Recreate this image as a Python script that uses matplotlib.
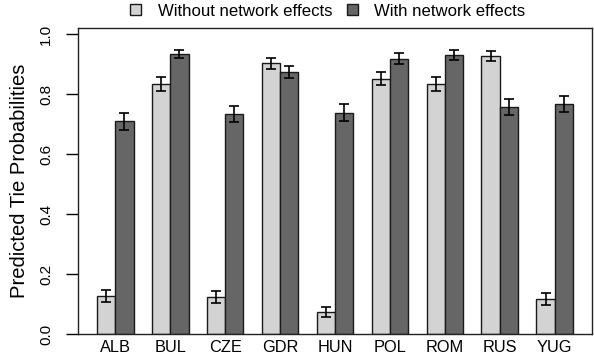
import matplotlib
matplotlib.use("Agg")
import matplotlib.pyplot as plt
from matplotlib.patches import Patch
import numpy as np

plt.rcParams['font.family'] = ['Liberation Sans', 'DejaVu Sans']

countries = ["ALB", "BUL", "CZE", "GDR", "HUN", "POL", "ROM", "RUS", "YUG"]
without_net = [0.127, 0.833, 0.123, 0.902, 0.073, 0.851, 0.833, 0.926, 0.116]
without_err = [0.021, 0.024, 0.021, 0.018, 0.017, 0.022, 0.023, 0.016, 0.020]
with_net = [0.709, 0.933, 0.733, 0.873, 0.738, 0.918, 0.930, 0.756, 0.766]
with_err = [0.028, 0.014, 0.027, 0.021, 0.027, 0.018, 0.017, 0.027, 0.027]
series_labels = ["Without network effects", "With network effects"]
yticks = [0.0, 0.2, 0.4, 0.6, 0.8, 1.0]

light = "#d3d3d3"
dark = "#666666"

fig = plt.figure(figsize=(5.94, 3.58), dpi=100)
ax = fig.add_axes([78/594, 1 - 334/358, (592-78)/594, (334-28)/358])

n = len(countries)
idx = np.arange(n)
x_light = 1.5 + 3 * idx
x_dark = 2.5 + 3 * idx
centers = 2 + 3 * idx

ax.bar(x_light, without_net, width=1.0, color=light, edgecolor="#1a1a1a", linewidth=1.0)
ax.bar(x_dark, with_net, width=1.0, color=dark, edgecolor="#1a1a1a", linewidth=1.0)
ax.errorbar(x_light, without_net, yerr=without_err, fmt='none', ecolor='black',
            elinewidth=1.2, capsize=3.4, capthick=1.2)
ax.errorbar(x_dark, with_net, yerr=with_err, fmt='none', ecolor='black',
            elinewidth=1.2, capsize=3.4, capthick=1.2)

ax.set_xlim(-0.04, 28.04)
ax.set_ylim(0, 1.02)
ax.set_xticks(centers)
ax.set_xticklabels(countries, fontsize=11.8)
ax.tick_params(axis='x', length=0, pad=4)
ax.set_yticks(yticks)
ax.set_yticklabels([f"{v:.1f}" for v in yticks], fontsize=11)
ax.tick_params(axis='y', length=9, width=1.0, pad=9)
for lab in ax.get_yticklabels():
    lab.set_rotation(90)
    lab.set_va('center')
    lab.set_ha('right')
for s in ax.spines.values():
    s.set_linewidth(1.0)
    s.set_color("#222222")

ax.set_ylabel("Predicted Tie Probabilities", fontsize=14.6, labelpad=7)

handles = [Patch(facecolor=light, edgecolor="#1a1a1a", linewidth=1.0),
           Patch(facecolor=dark, edgecolor="#1a1a1a", linewidth=1.0)]
fig.legend(handles, series_labels, loc='center', bbox_to_anchor=(328/594, 1 - 11/358),
           ncol=2, frameon=False, fontsize=12.1, handlelength=0.62, handleheight=0.62,
           handletextpad=1.0, columnspacing=0.9, borderpad=0, borderaxespad=0)

fig.savefig("out.png", dpi=100)
